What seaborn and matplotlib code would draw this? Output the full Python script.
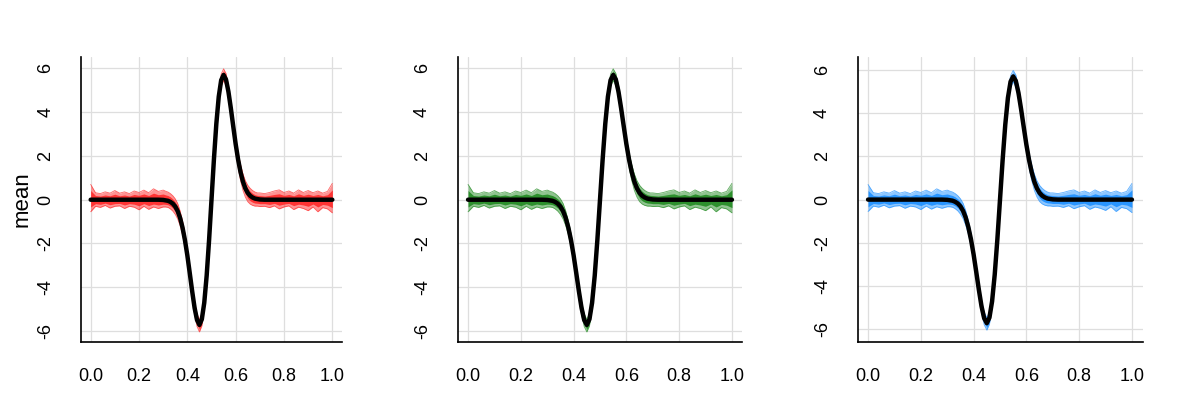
import numpy as np
import pandas as pd
import matplotlib
matplotlib.use("Agg")
import matplotlib.pyplot as plt
import seaborn as sns

# ---------------- data ----------------
x_grid = [0.00, 0.02, 0.04, 0.06, 0.08, 0.10, 0.12, 0.14, 0.16, 0.18, 0.20, 0.22, 0.24, 0.26, 0.28,
          0.30, 0.31, 0.32, 0.33, 0.34, 0.35, 0.36, 0.37, 0.38, 0.39, 0.40, 0.41, 0.42, 0.43, 0.44,
          0.45, 0.46, 0.47, 0.48, 0.49, 0.50, 0.51, 0.52, 0.53, 0.54, 0.55, 0.56, 0.57, 0.58, 0.59,
          0.60, 0.61, 0.62, 0.63, 0.64, 0.65, 0.66, 0.67, 0.68, 0.69, 0.70,
          0.72, 0.74, 0.76, 0.78, 0.80, 0.82, 0.84, 0.86, 0.88, 0.90, 0.92, 0.94, 0.96, 0.98, 1.00]

mean_curve = [0, 0, 0, 0, 0, 0, 0, 0, 0, 0, 0, 0, 0, 0, 0,
              -0.01, -0.03, -0.05, -0.10, -0.18, -0.31, -0.52, -0.83, -1.27, -1.84, -2.54, -3.35, -4.18, -4.94, -5.49,
              -5.72, -5.46, -4.71, -3.47, -1.84, 0.00, 1.84, 3.47, 4.71, 5.46, 5.70, 5.49, 4.94, 4.18, 3.35,
              2.54, 1.84, 1.27, 0.83, 0.52, 0.31, 0.18, 0.10, 0.05, 0.03, 0.01,
              0, 0, 0, 0, 0, 0, 0, 0, 0, 0, 0, 0, 0, 0, 0]

# upper / lower spread of the sampled curves around the mean
spread_hi = [0.70, 0.32, 0.28, 0.36, 0.30, 0.42, 0.30, 0.36, 0.28, 0.40, 0.33, 0.44, 0.32, 0.50, 0.38,
             0.45, 0.42, 0.40, 0.38, 0.36, 0.35, 0.35, 0.32, 0.30, 0.30, 0.30, 0.30, 0.30, 0.30, 0.28,
             0.25, 0.25, 0.28, 0.30, 0.30, 0.30, 0.30, 0.30, 0.28, 0.28, 0.28, 0.28, 0.30, 0.30, 0.30,
             0.30, 0.32, 0.34, 0.35, 0.35, 0.35, 0.34, 0.32, 0.30, 0.28, 0.30,
             0.28, 0.33, 0.40, 0.45, 0.33, 0.40, 0.30, 0.45, 0.33, 0.42, 0.32, 0.40, 0.30, 0.38, 0.75]
spread_lo = [-0.55, -0.30, -0.35, -0.26, -0.38, -0.30, -0.28, -0.40, -0.30, -0.34, -0.46, -0.30, -0.44, -0.33, -0.40,
             -0.32, -0.30, -0.30, -0.32, -0.34, -0.36, -0.36, -0.35, -0.32, -0.30, -0.30, -0.30, -0.30, -0.30, -0.30,
             -0.32, -0.30, -0.28, -0.30, -0.30, -0.30, -0.30, -0.30, -0.28, -0.26, -0.25, -0.28, -0.30, -0.30, -0.30,
             -0.32, -0.35, -0.38, -0.40, -0.40, -0.40, -0.38, -0.36, -0.34, -0.32, -0.32,
             -0.30, -0.36, -0.28, -0.42, -0.33, -0.28, -0.45, -0.34, -0.40, -0.50, -0.33, -0.55, -0.36, -0.42, -0.60]

panel_colors = ["#FF2A2A", "#228B22", "#1E90FF"]
x_ticks = [0.0, 0.2, 0.4, 0.6, 0.8, 1.0]
y_ticks = [-6, -4, -2, 0, 2, 4, 6]
y_label = "mean"

# ---------------- style ----------------
sns.set_theme(style="white")
plt.rcParams["font.family"] = ["Liberation Sans", "DejaVu Sans"]
plt.rcParams["axes.unicode_minus"] = False

fig = plt.figure(figsize=(12, 4), dpi=100)
positions = [
    [81 / 1200, 0.145, 261 / 1200, 0.7125],
    [457.5 / 1200, 0.145, 285 / 1200, 0.7125],
    [857.5 / 1200, 0.145, 285 / 1200, 0.7125],
]
ylims = [(-6.5, 6.52), (-6.5, 6.52), (-6.59, 6.6)]

df = pd.DataFrame({"x": x_grid, "mean": mean_curve})
m = np.array(mean_curve)
hi = m + np.array(spread_hi)
lo = m + np.array(spread_lo)
core_hi = m + 0.6 * np.array(spread_hi)
core_lo = m + 0.6 * np.array(spread_lo)

for i, (pos, col) in enumerate(zip(positions, panel_colors)):
    ax = fig.add_axes(pos)
    ax.set_axisbelow(True)
    ax.grid(True, color="#DEDEDE", linewidth=0.9)
    ax.fill_between(x_grid, lo, hi, color=col, alpha=0.50, linewidth=0)
    ax.plot(x_grid, hi, color=col, alpha=0.7, linewidth=0.6)
    ax.plot(x_grid, lo, color=col, alpha=0.7, linewidth=0.6)
    ax.fill_between(x_grid, core_lo, core_hi, color=col, alpha=0.9, linewidth=0)
    sns.lineplot(data=df, x="x", y="mean", ax=ax, color="black", linewidth=3.2)

    ax.set_xlim(-0.04, 1.04)
    ax.set_ylim(*ylims[i])
    ax.set_xticks(x_ticks)
    ax.set_xticklabels([f"{t:.1f}" for t in x_ticks])
    ax.set_yticks(y_ticks)
    ax.set_yticklabels([str(t) for t in y_ticks], rotation=90, va="center")
    ax.tick_params(axis="both", direction="out", length=8, width=1.0, color="black",
                   labelsize=13, labelcolor="black")
    ax.tick_params(axis="x", pad=11)
    ax.tick_params(axis="y", pad=11)
    for s in ["top", "right"]:
        ax.spines[s].set_visible(False)
    for s in ["left", "bottom"]:
        ax.spines[s].set_color("black")
        ax.spines[s].set_linewidth(1.2)
    ax.set_xlabel("")
    if i == 0:
        ax.set_ylabel(y_label, fontsize=16, color="black")
        ax.yaxis.set_label_coords(-0.185, 0.5)
    else:
        ax.set_ylabel("")

fig.savefig("out.png", dpi=100)
